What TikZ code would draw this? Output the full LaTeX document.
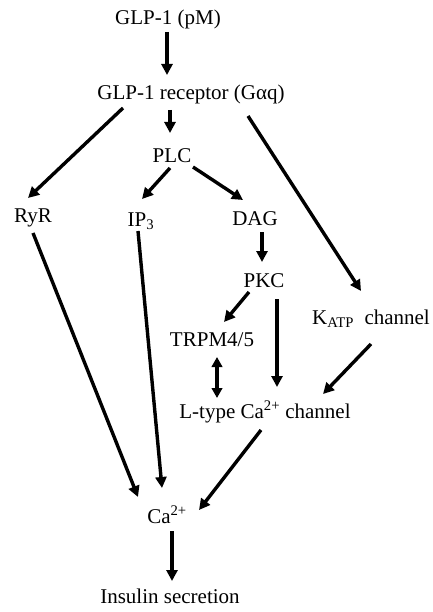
\documentclass[tikz,border=0pt]{standalone}
\usepackage{fontspec}
\setmainfont{Liberation Serif}
\usetikzlibrary{arrows.meta}
\begin{document}
\begin{tikzpicture}[x=1bp,y=-1bp,
  lbl/.style={anchor=base,inner sep=0pt,font=\fontsize{21bp}{25bp}\selectfont},
  arr/.style={line width=3.4bp,-{Triangle[length=11bp,width=11bp]}},
  darr/.style={line width=3.4bp,{Triangle[length=10bp,width=10.5bp]}-{Triangle[length=10bp,width=10.5bp]}}]
\useasboundingbox (0,0) rectangle (432,612);
\node[lbl] (glp) at (168,25) {GLP-1 (pM)};
\node[lbl] (rec) at (191,100) {GLP-1 receptor (Gαq)};
\node[lbl] (plc) at (172,163) {PLC};
\node[lbl] (ryr) at (33,222) {RyR};
\node[lbl] (ip3) at (141,226) {IP\textsubscript{3}};
\node[lbl] (dag) at (255,225) {DAG};
\node[lbl] (pkc) at (264,287) {PKC};
\node[lbl] (katp) at (371,324) {K\textsubscript{ATP}\ \ channel};
\node[lbl] (trpm) at (212,346) {TRPM4/5};
\node[lbl] (ltype) at (265,418) {L-type Ca\textsuperscript{2+} channel};
\node[lbl] (ca) at (167,523) {Ca\textsuperscript{2+}};
\node[lbl] (ins) at (170,603) {Insulin secretion};
\draw[arr] ([shift={(-1,7)}]glp.base) -- ([shift={(-24,-25)}]rec.base);
\draw[arr] ([shift={(-21,10)}]rec.base) -- ([shift={(-2,-30)}]plc.base);
\draw[arr] ([shift={(-68,8)}]rec.base) -- ([shift={(-5,-24)}]ryr.base);
\draw[arr] ([shift={(57,16)}]rec.base) -- ([shift={(-10,-33)}]katp.base);
\draw[arr] ([shift={(-2,5)}]plc.base) -- ([shift={(1,-27)}]ip3.base);
\draw[arr] ([shift={(21,4)}]plc.base) -- ([shift={(-12,-25)}]dag.base);
\draw[arr] ([shift={(7,7)}]dag.base) -- ([shift={(-2,-25)}]pkc.base);
\draw[arr] ([shift={(-15,5)}]pkc.base) -- ([shift={(12,-24)}]trpm.base);
\draw[arr] ([shift={(13,12)}]pkc.base) -- ([shift={(12,-31)}]ltype.base);
\draw[arr] ([shift={(0,20)}]katp.base) -- ([shift={(58,-24)}]ltype.base);
\draw[darr] ([shift={(5,11)}]trpm.base) -- ([shift={(-48,-20)}]ltype.base);
\draw[arr] ([shift={(0,11)}]ryr.base) -- ([shift={(-29,-26)}]ca.base);
\draw[arr] ([shift={(-3,5)}]ip3.base) -- ([shift={(-5,-35)}]ca.base);
\draw[arr] ([shift={(-4,12)}]ltype.base) -- ([shift={(32,-13)}]ca.base);
\draw[arr] ([shift={(5,8)}]ca.base) -- ([shift={(2,-22)}]ins.base);
\end{tikzpicture}
\end{document}
